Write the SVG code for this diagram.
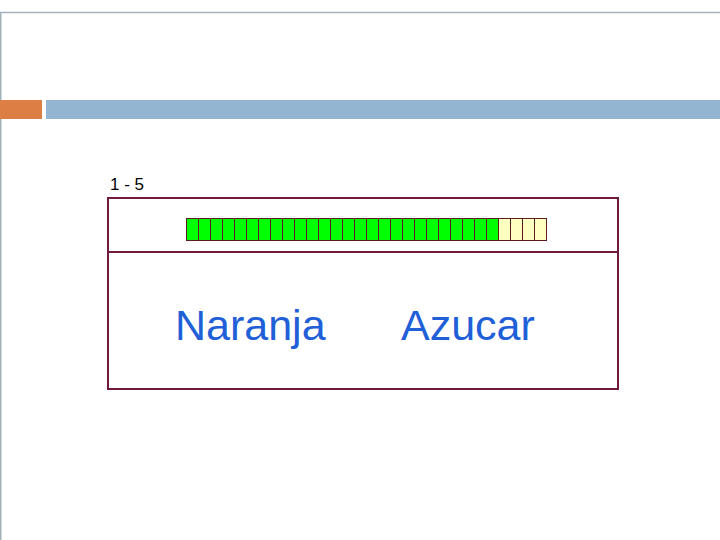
<svg xmlns="http://www.w3.org/2000/svg" width="720" height="540" viewBox="0 0 720 540">
<style>
.frame{fill:none;stroke:#a3b2ba;stroke-width:1.5}
.box{fill:none;stroke:#701a3c;stroke-width:2}
.g{fill:#00ff00;stroke:#5a1a20;stroke-width:1}
.y{fill:#ffffc0;stroke:#5a1a20;stroke-width:1}
.big{font-family:"Liberation Sans",Arial,sans-serif;font-size:43px;fill:#1f5fd8}
.small{font-family:"Liberation Sans",Arial,sans-serif;font-size:17px;fill:#000}
</style>
<rect width="720" height="540" fill="#fff"/>
<g id="frame">
<path class="frame" d="M720 12.5H0.75V540"/>
<rect x="0" y="100" width="42" height="19" fill="#dd7f45"/>
<rect x="46" y="100" width="674" height="19" fill="#94b5d2"/>
</g>
<g id="label"><text class="small" x="110" y="190">1 - 5</text></g>
<g id="box">
<rect class="box" x="108" y="198" width="510" height="191"/>
<line class="box" x1="108" y1="252" x2="618" y2="252"/>
</g>
<g id="bar">
<rect class="g" x="186.5" y="218.5" width="12" height="22"/><rect class="g" x="198.5" y="218.5" width="12" height="22"/><rect class="g" x="210.5" y="218.5" width="12" height="22"/><rect class="g" x="222.5" y="218.5" width="12" height="22"/><rect class="g" x="234.5" y="218.5" width="12" height="22"/><rect class="g" x="246.5" y="218.5" width="12" height="22"/><rect class="g" x="258.5" y="218.5" width="12" height="22"/><rect class="g" x="270.5" y="218.5" width="12" height="22"/><rect class="g" x="282.5" y="218.5" width="12" height="22"/><rect class="g" x="294.5" y="218.5" width="12" height="22"/><rect class="g" x="306.5" y="218.5" width="12" height="22"/><rect class="g" x="318.5" y="218.5" width="12" height="22"/><rect class="g" x="330.5" y="218.5" width="12" height="22"/><rect class="g" x="342.5" y="218.5" width="12" height="22"/><rect class="g" x="354.5" y="218.5" width="12" height="22"/><rect class="g" x="366.5" y="218.5" width="12" height="22"/><rect class="g" x="378.5" y="218.5" width="12" height="22"/><rect class="g" x="390.5" y="218.5" width="12" height="22"/><rect class="g" x="402.5" y="218.5" width="12" height="22"/><rect class="g" x="414.5" y="218.5" width="12" height="22"/><rect class="g" x="426.5" y="218.5" width="12" height="22"/><rect class="g" x="438.5" y="218.5" width="12" height="22"/><rect class="g" x="450.5" y="218.5" width="12" height="22"/><rect class="g" x="462.5" y="218.5" width="12" height="22"/><rect class="g" x="474.5" y="218.5" width="12" height="22"/><rect class="g" x="486.5" y="218.5" width="12" height="22"/>
<rect class="y" x="498.5" y="218.5" width="12" height="22"/><rect class="y" x="510.5" y="218.5" width="12" height="22"/><rect class="y" x="522.5" y="218.5" width="12" height="22"/><rect class="y" x="534.5" y="218.5" width="12" height="22"/>
</g>
<g id="texts">
<text class="big" x="175" y="340">Naranja</text>
<text class="big" x="401" y="340" font-size="44">Azucar</text>
</g>
</svg>
